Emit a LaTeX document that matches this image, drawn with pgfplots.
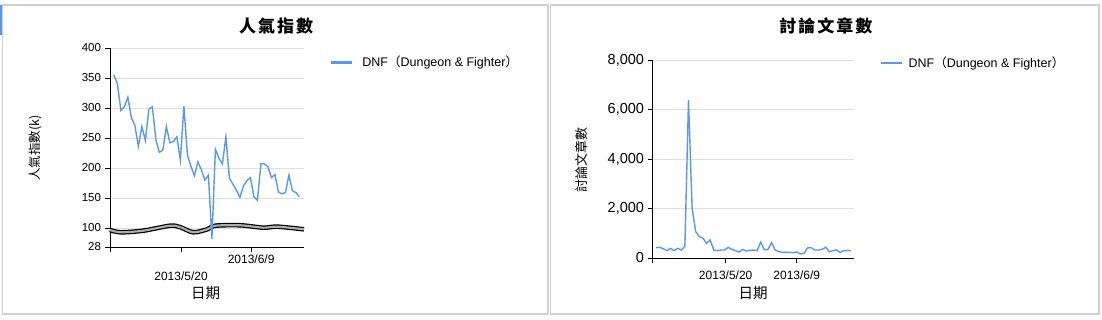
\documentclass[border=0pt]{standalone}
\usepackage{pgfplots}
\pgfplotsset{compat=1.18}
\usepackage{fontspec}
\setmainfont{Liberation Sans}
\newfontfamily\cjk{Noto Sans CJK TC}
\definecolor{dnfblue}{RGB}{88,152,245}
\definecolor{gridgray}{RGB}{222,222,222}
\definecolor{panelgray}{RGB}{208,208,208}

\pgfplotstableread{
d v
1 355
2 341
3 296
4 302
5 318
6 284
7 271
8 236
9 269
10 246
11 298
12 302
13 247
14 226
15 230
16 269
17 242
18 244
19 252
20 213
21 303
22 222
23 203
24 187
25 210
26 197
27 180
28 188
29 82
30 231
31 216
32 207
33 252
34 183
35 173
36 163
37 151
38 170
39 179
40 184
41 152
42 146
43 207
44 207
45 202
46 184
47 189
48 160
49 157
50 159
51 188
52 162
53 159
54 152
}\popdata

\pgfplotstableread{
d v
1 417
2 431
3 377
4 296
5 391
6 296
7 391
8 323
9 470
10 6383
11 2007
12 1064
13 862
14 800
15 593
16 727
17 323
18 296
19 323
20 323
21 431
22 350
23 296
24 240
25 350
26 280
27 310
28 320
29 300
30 640
31 340
32 340
33 620
34 323
35 256
36 229
37 229
38 229
39 215
40 242
41 162
42 188
43 410
44 417
45 323
46 323
47 350
48 440
49 256
50 296
51 330
52 215
53 300
54 300
55 300
}\postdata

\pgfplotstableread{
d v
-0.1 96.7
2.9 92.8
9.4 95.5
17.1 103.8
20 101.2
23.7 92.8
27.7 97.8
30 103.8
37.1 104.5
43.7 100.5
47.7 102.2
55.3 97.8
}\breakdata

\pgfplotsset{
  dnfaxis/.style={
    scale only axis,
    axis lines=left,
    axis line style={black, line width=0.8pt, -},
    tick align=outside,
    major tick length=4.5pt,
    tick style={black, line width=0.8pt},
    ymajorgrids,
    grid style={gridgray, line width=0.8pt},
    /pgf/number format/assume math mode=true,
    tick label style={black},
    clip=false,
    legend image code/.code={\draw[dnfblue, line width=2.4pt] (0pt,0pt) -- (21pt,0pt);},
    legend style={draw=none, fill=none, inner sep=0pt, outer sep=0pt, anchor=west,
      font=\fontsize{12.5}{14}\selectfont, legend cell align=left},
  }
}

\begin{document}
\begin{tikzpicture}[x=1pt,y=1pt]
\path (0,0) rectangle (1102,319);
\draw[panelgray, line width=1.3pt] (2.5,5) rectangle (548,314);
\draw[panelgray, line width=1.3pt] (550.5,5) rectangle (1099,314);
\draw[dnfblue, line width=1.5pt] (0.75,284) -- (0.75,314);

% left chart
\begin{axis}[dnfaxis,
  at={(110pt,72pt)}, anchor=south west,
  width=194pt, height=199pt,
  xmin=-0.1, xmax=55.3,
  ymin=68.3, ymax=400,
  ytick={68.3,100,150,200,250,300,350,400},
  yticklabels={28,100,150,200,250,300,350,400},
  yticklabel style={font=\fontsize{11.5}{12}\selectfont, xshift=-1pt},
  xtick={-0.1,40.2},
  xticklabels={,2013/6/9},
  xticklabel style={font=\fontsize{12}{13}\selectfont},
  extra x ticks={20.2},
  extra x tick labels={2013/5/20},
  extra x tick style={grid=none, xticklabel style={yshift=-17pt}},
  title={\cjk\bfseries\fontsize{17}{18}\selectfont 人\kern2pt 氣\kern2pt 指\kern2pt 數},
  title style={at={(axis description cs:0.856,1.082)}, anchor=center},
  xlabel={\cjk\fontsize{14.5}{16}\selectfont 日期},
  xlabel style={at={(axis description cs:0.493,-0.231)}, anchor=center},
  ylabel={\cjk\fontsize{12.5}{14}\selectfont 人氣指數(k)},
  ylabel style={at={(axis description cs:-0.385,0.497)}, anchor=center},
  legend style={at={(axis description cs:1.134,0.928)}},
]
\addplot[black, line width=4.6pt, smooth, forget plot] table[x=d,y=v] {\breakdata};
\addplot[gray!65, line width=2.2pt, smooth, forget plot] table[x=d,y=v] {\breakdata};
\addplot[dnfblue, line width=1.4pt] table[x=d,y=v] {\popdata};
\addlegendentry{\kern7pt DNF{\cjk（}Dungeon \& Fighter{\cjk）}}
\end{axis}

% right chart
\begin{axis}[dnfaxis,
  at={(652pt,61pt)}, anchor=south west,
  width=202pt, height=198pt,
  xmin=-0.11, xmax=55.85,
  ymin=0, ymax=8000,
  ytick={0,2000,4000,6000,8000},
  scaled y ticks=false,
  yticklabel style={font=\fontsize{14.5}{16}\selectfont, /pgf/number format/1000 sep={,}},
  xtick={-0.11,20.3,40},
  xticklabels={,2013/5/20,2013/6/9},
  xticklabel style={font=\fontsize{12}{13}\selectfont, yshift=-5pt},
  title={\cjk\bfseries\fontsize{17}{18}\selectfont 討\kern2pt 論\kern2pt 文\kern2pt 章\kern2pt 數},
  title style={at={(axis description cs:0.861,1.142)}, anchor=center},
  xlabel={\cjk\fontsize{14.5}{16}\selectfont 日期},
  xlabel style={at={(axis description cs:0.5,-0.177)}, anchor=center},
  ylabel={\cjk\fontsize{13}{14}\selectfont 討論文章數},
  ylabel style={at={(axis description cs:-0.347,0.495)}, anchor=center},
  legend style={at={(axis description cs:1.13,0.985)}},
]
\addplot[dnfblue, line width=1.4pt] table[x=d,y=v] {\postdata};
\addlegendentry{\kern3pt DNF{\cjk（}Dungeon \& Fighter{\cjk）}}
\end{axis}
\end{tikzpicture}
\end{document}
